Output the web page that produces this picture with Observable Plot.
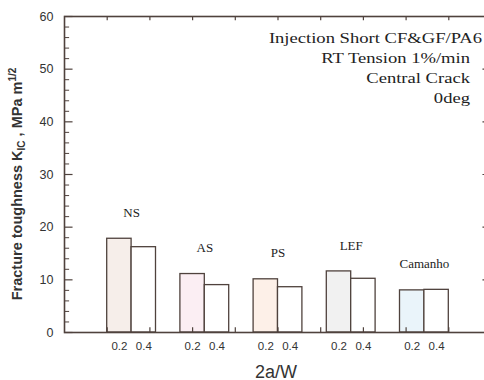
<!DOCTYPE html>
<html><head><meta charset="utf-8">
<script src="https://cdn.jsdelivr.net/npm/d3@7"></script>
<script src="https://cdn.jsdelivr.net/npm/@observablehq/plot@0.6"></script>
<style>body{margin:0;background:#fff}</style>
</head><body><div id="chart"></div>
<script>
const groups = ["NS", "AS", "PS", "LEF", "Camanho"];
const ratios = ["0.2", "0.4"];
const toughness02 = [17.8, 11.1, 10.1, 11.6, 8.0];
const toughness04 = [16.2, 9.0, 8.6, 10.2, 8.1];
const fill02 = ["#f6eeea", "#fbeef3", "#fdf0e8", "#f1f1f1", "#eaf4fa"];
const annotation = ["Injection Short CF&GF/PA6", "RT Tension 1%/min", "Central Crack", "0deg"];
const yTicks = [0, 10, 20, 30, 40, 50, 60];
const xLabel = "2a/W";

const ink = "#4f423d";
const slot = 8 / 14;
const bars = [];
groups.forEach((g, gi) => {
  [toughness02[gi], toughness04[gi]].forEach((v, si) => {
    const x1 = 1 + (gi * 3 + si) * slot;
    bars.push({group: g, ratio: ratios[si], value: v, x1, x2: x1 + slot,
      xc: x1 + slot / 2, fill: si === 0 ? fill02[gi] : "#ffffff"});
  });
});
const groupLabels = groups.map((g, gi) => ({
  group: g, xc: 1 + (gi * 3 + 1) * slot, top: Math.max(toughness02[gi], toughness04[gi])
}));
const minorY = d3.range(0, 61, 2).filter(v => v % 10 !== 0);
const frameX = d3.range(1, 10);

const plot = Plot.plot({
  width: 484, height: 380,
  marginLeft: 64, marginTop: 16, marginBottom: 48, marginRight: -7,
  x: {type: "linear", domain: [0, 10], axis: null},
  y: {domain: [0, 60], axis: null},
  style: {background: "#fff"},
  marks: [
    Plot.rectY(bars, {x1: "x1", x2: "x2", y1: 0, y2: "value", fill: "fill", stroke: ink, strokeWidth: 1.3}),
    Plot.ruleY(yTicks, {x1: 0, x2: 0.2, stroke: ink, strokeWidth: 1.2}),
    Plot.ruleY(minorY, {x1: 0, x2: 0.12, stroke: ink, strokeWidth: 1}),
    Plot.ruleY(yTicks, {x1: 10, x2: 9.8, stroke: ink, strokeWidth: 1.2}),
    Plot.ruleY(minorY, {x1: 10, x2: 9.88, stroke: ink, strokeWidth: 1}),
    Plot.ruleX(frameX, {y1: 60, y2: 59.2, stroke: ink, strokeWidth: 1.2}),
    Plot.ruleX(frameX, {y1: 0, y2: 0.9, stroke: ink, strokeWidth: 1.2}),
    Plot.frame({stroke: ink, strokeWidth: 1.6}),
    Plot.text(yTicks, {x: 0, y: d => d, text: d => String(d), textAnchor: "end", dx: -11,
      fontSize: 12.5, fontFamily: "Liberation Sans, Arial, sans-serif", fill: "#333"}),
    Plot.text(bars, {x: "xc", y: 0, text: "ratio", dy: 14, fontSize: 11.5,
      fontFamily: "Liberation Sans, Arial, sans-serif", fill: "#333"}),
    Plot.text(groupLabels, {x: "xc", y: "top", text: "group", dy: -26, fontSize: 13,
      fontFamily: "Liberation Serif, Times New Roman, serif", fill: "#222"}),
    Plot.text([xLabel], {frameAnchor: "bottom", dy: 45, dx: -2, text: d => d, fontSize: 18,
      fontFamily: "Liberation Sans, Arial, sans-serif", fill: "#333"})
  ]
});

const svg = d3.select(plot);
// annotation block, top right
annotation.forEach((line, i) => {
  svg.append("text")
    .attr("transform", `translate(${i === 0 ? 482 : 470},${38 + 20 * i}) scale(1.2,1)`)
    .attr("text-anchor", "end")
    .attr("dy", "0.35em")
    .attr("font-family", "Liberation Serif, Times New Roman, serif")
    .attr("font-size", 15.5)
    .attr("fill", "#222")
    .text(line);
});
// y-axis title with subscript / superscript
const yl = svg.append("text")
  .attr("transform", "translate(17,184) rotate(-90)")
  .attr("text-anchor", "middle")
  .attr("dy", "0.35em")
  .attr("font-family", "Liberation Sans, Arial, sans-serif")
  .attr("font-weight", "bold")
  .attr("font-size", 14.5)
  .attr("fill", "#333");
yl.append("tspan").text("Fracture toughness K");
yl.append("tspan").attr("font-size", 10).attr("dy", 3).text("IC");
yl.append("tspan").attr("dy", -3).text(" , MPa m");
yl.append("tspan").attr("font-size", 10).attr("dy", -6).text("1/2");
document.getElementById("chart").appendChild(plot);
</script>
</body></html>
